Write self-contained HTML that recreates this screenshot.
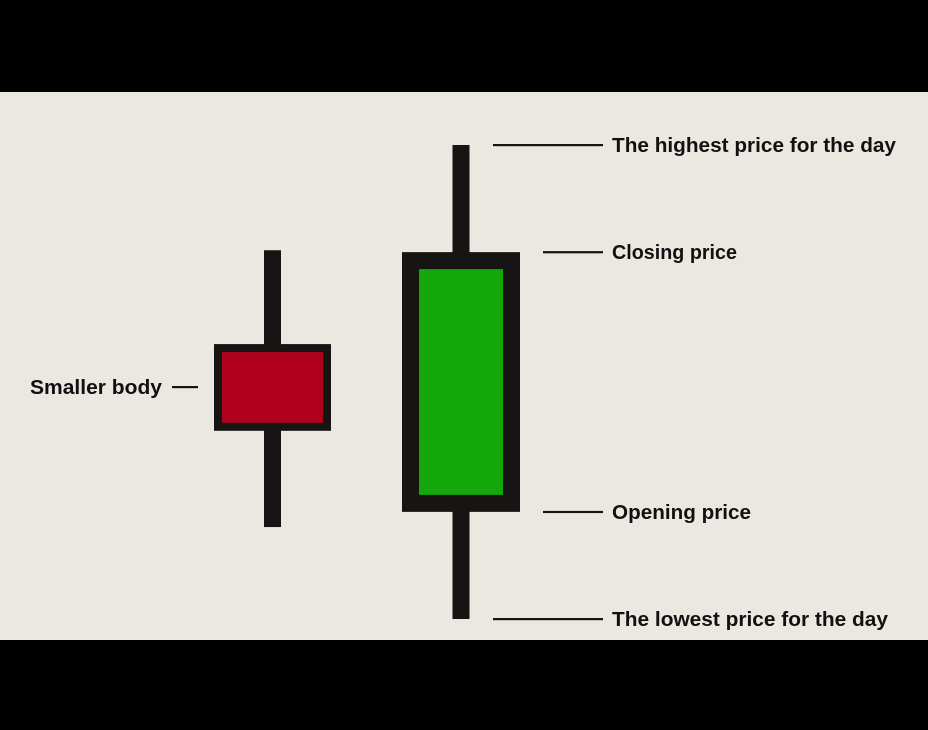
<!DOCTYPE html>
<html><head><meta charset="utf-8"><style>
html,body{margin:0;padding:0;background:#000;}
svg{display:block}
text{font-family:"Liberation Sans",sans-serif;font-weight:bold;font-size:20px;fill:#111;}
</style></head><body>
<svg width="928" height="730" viewBox="0 0 928 730">
<rect x="0" y="0" width="928" height="730" fill="#000"/>
<rect x="0" y="92" width="928" height="548" fill="#ebe8e2"/>
<g id="marks"></g>
</svg>
<script>
const candleNames = ["small-candle","big-candle"];
const opens  = [58.0, 22.6];
const closes = [39.7, 77.4];
const highs  = [77.8, 100];
const lows   = [19.4, 0];
const fills  = ["#b0001e","#14a80a"];
const centers = [272.5, 461];
const labels = ["The highest price for the day","Closing price","Opening price","The lowest price for the day"];
const labelValues = [100, 77.4, 22.6, 0];

const y = v => 619 - v * 4.74;
const ns = "http://www.w3.org/2000/svg";
const g = document.getElementById("marks");
function mk(tag, attrs){const e=document.createElementNS(ns,tag);for(const k in attrs)e.setAttribute(k,attrs[k]);g.appendChild(e);return e;}

candleNames.forEach((n,i)=>{
  const cx = centers[i];
  const big = i===1;
  const hw = big ? 59 : 58.5;
  const bw = big ? 17 : 8;
  const w = mk("rect",{x:cx-8.5,y:y(highs[i]),width:17,height:y(lows[i])-y(highs[i]),fill:"#161513"});
  
  
  const top = y(Math.max(opens[i],closes[i])), bot = y(Math.min(opens[i],closes[i]));
  const b = mk("rect",{x:cx-hw,y:top,width:hw*2,height:bot-top,fill:"#161513"});
  
  
  const f = mk("rect",{x:cx-hw+bw,y:top+bw,width:hw*2-2*bw,height:bot-top-2*bw,fill:fills[i]});
  
  
});

const lineStarts=[493,543,543,493];
const widths=[284,125,139,276];
labels.forEach((t,i)=>{
  const yy=y(labelValues[i]);
  const l=mk("rect",{x:lineStarts[i],y:yy-1,width:603-lineStarts[i],height:2.2,fill:"#161513"});
  
  
  const tx=mk("text",{x:612,y:yy+7,textLength:widths[i],lengthAdjust:"spacingAndGlyphs"});
  tx.textContent=t;
  
  
});
const sl=mk("rect",{x:172,y:386,width:26,height:2.2,fill:"#161513"});


const st=mk("text",{x:30,y:394,textLength:132,lengthAdjust:"spacingAndGlyphs"});
st.textContent="Smaller body";


</script>
</body></html>
